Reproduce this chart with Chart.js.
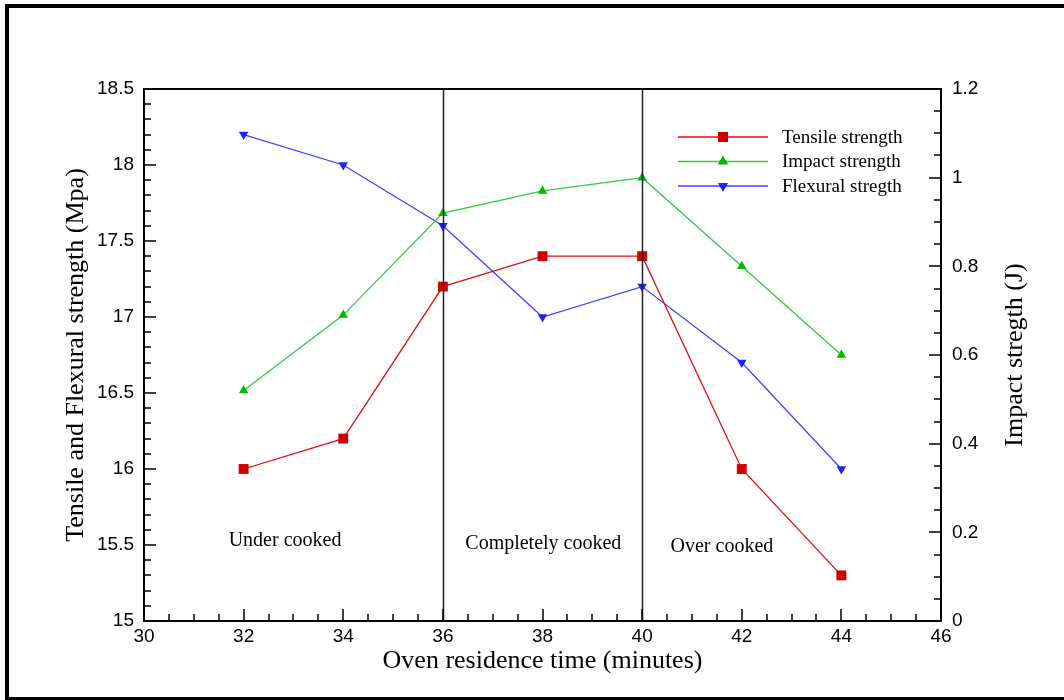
<!DOCTYPE html>
<html>
<head>
<meta charset="utf-8">
<script src="https://cdn.jsdelivr.net/npm/chart.js@4"></script>
<style>
  html, body { margin: 0; padding: 0; background: #fff; }
  #wrap { width: 1064px; height: 700px; }
</style>
</head>
<body>
<div id="wrap"><canvas id="chart" width="1064" height="700"></canvas></div>
<script>
// oven residence time (minutes)
const times = [32, 34, 36, 38, 40, 42, 44];
// left axis (Mpa)
const tensile = [16.0, 16.2, 17.2, 17.4, 17.4, 16.0, 15.3];
const flexural = [18.2, 18.0, 17.6, 17.0, 17.2, 16.7, 16.0];
// right axis (J)
const impact = [0.52, 0.69, 0.92, 0.97, 1.0, 0.80, 0.60];

const seriesNames = ['Tensile strength', 'Impact strength', 'Flexural stregth'];
const stageBounds = [36, 40];
const stageNames = ['Under cooked', 'Completely cooked', 'Over cooked'];

const serif = 'Liberation Serif';
const sans = 'Liberation Sans';

const toPoints = vals => times.map((t, i) => ({ x: t, y: vals[i] }));
const plainNum = v => String(+v.toFixed(2));

// ticks pointing inwards, axis frame, stage lines, labels, legend
const decorations = {
    id: 'decorations',
    afterDatasetsDraw(chart) {
        const { ctx, chartArea: a, scales } = chart;
        ctx.save();
        ctx.strokeStyle = '#222';
        ctx.lineWidth = 1.5;
        stageBounds.forEach(v => {
            const px = Math.round(scales.x.getPixelForValue(v)) + 0.5;
            ctx.beginPath();
            ctx.moveTo(px, a.top);
            ctx.lineTo(px, a.bottom);
            ctx.stroke();
        });
        ctx.restore();
    },
    afterDraw(chart) {
        const { ctx, chartArea: a, scales } = chart;
        ctx.save();

        // outer frame
        ctx.strokeStyle = '#000';
        ctx.lineWidth = 4;
        ctx.strokeRect(7, 6, 1100, 693);

        // top edge of plot box
        ctx.lineWidth = 2;
        ctx.beginPath();
        ctx.moveTo(a.left, a.top);
        ctx.lineTo(a.right, a.top);
        ctx.stroke();

        // inside ticks
        ctx.lineWidth = 1.5;
        for (let k = 0; k <= 32; k++) {
            const px = Math.round(scales.x.getPixelForValue(30 + k * 0.5));
            const len = k % 4 === 0 ? 12 : 7;
            ctx.beginPath();
            ctx.moveTo(px, a.bottom);
            ctx.lineTo(px, a.bottom - len);
            ctx.stroke();
        }
        for (let k = 0; k <= 35; k++) {
            const py = Math.round(scales.y.getPixelForValue(15 + k * 0.1));
            const len = k % 5 === 0 ? 12 : 7;
            ctx.beginPath();
            ctx.moveTo(a.left, py);
            ctx.lineTo(a.left + len, py);
            ctx.stroke();
        }
        for (let k = 0; k <= 24; k++) {
            const py = Math.round(scales.y1.getPixelForValue(k * 0.05));
            const len = k % 4 === 0 ? 12 : 7;
            ctx.beginPath();
            ctx.moveTo(a.right, py);
            ctx.lineTo(a.right - len, py);
            ctx.stroke();
        }

        // right axis title, reads bottom to top
        ctx.fillStyle = '#000';
        ctx.font = `26px "${serif}"`;
        ctx.textAlign = 'center';
        ctx.textBaseline = 'middle';
        ctx.translate(1015, (a.top + a.bottom) / 2);
        ctx.rotate(-Math.PI / 2);
        ctx.fillText('Impact stregth (J)', 0, 0);
        ctx.setTransform(1, 0, 0, 1, 0, 0);

        // stage labels
        const stagePos = [[31.7, 15.53], [36.45, 15.51], [40.57, 15.49]];
        ctx.font = `20px "${serif}"`;
        ctx.textAlign = 'left';
        stageNames.forEach((name, i) => {
            const [vx, vy] = stagePos[i];
            ctx.fillText(name, scales.x.getPixelForValue(vx), scales.y.getPixelForValue(vy));
        });

        // legend
        ctx.font = `19px "${serif}"`;
        chart.data.datasets.forEach((ds, i) => {
            const y = 137 + i * 24.5;
            ctx.strokeStyle = ds.borderColor;
            ctx.lineWidth = 1.3;
            ctx.beginPath();
            ctx.moveTo(678, y);
            ctx.lineTo(768, y);
            ctx.stroke();
            Chart.helpers.drawPoint(ctx, {
                pointStyle: ds.pointStyle,
                radius: ds.pointRadius,
                rotation: ds.pointRotation || 0,
                borderWidth: 0
            }, 723, y);
            ctx.fillStyle = ds.pointBackgroundColor;
            ctx.fill();
            ctx.fillStyle = '#000';
            ctx.fillText(ds.label, 782, y + 1);
        });

        ctx.restore();
    }
};

new Chart(document.getElementById('chart'), {
    type: 'line',
    data: {
        datasets: [{
            label: seriesNames[0],
            data: toPoints(tensile),
            yAxisID: 'y',
            borderColor: '#e01010',
            pointBackgroundColor: '#d00000',
            pointBorderColor: '#d00000',
            pointStyle: 'rect',
            pointRadius: 7
        }, {
            label: seriesNames[1],
            data: toPoints(impact),
            yAxisID: 'y1',
            borderColor: '#33cc33',
            pointBackgroundColor: '#00bb00',
            pointBorderColor: '#00bb00',
            pointStyle: 'triangle',
            pointRadius: 5.5
        }, {
            label: seriesNames[2],
            data: toPoints(flexural),
            yAxisID: 'y',
            borderColor: '#4040ff',
            pointBackgroundColor: '#2020ff',
            pointBorderColor: '#2020ff',
            pointStyle: 'triangle',
            pointRotation: 180,
            pointRadius: 5.5
        }]
    },
    options: {
        responsive: false,
        animation: false,
        events: [],
        datasets: {
            line: { borderWidth: 1.3, tension: 0, fill: false, pointBorderWidth: 0 }
        },
        layout: { padding: { left: 10, right: 0, top: 89, bottom: 0 } },
        plugins: { legend: { display: false }, tooltip: { enabled: false } },
        scales: {
            x: {
                type: 'linear',
                min: 30, max: 46,
                grid: { display: false, drawTicks: false },
                border: { display: true, color: '#000', width: 2 },
                ticks: { stepSize: 2, color: '#000', padding: 4, callback: plainNum, font: { family: sans, size: 19 } },
                title: {
                    display: true,
                    text: 'Oven residence time (minutes)',
                    color: '#000',
                    font: { family: serif, size: 26 },
                    padding: { top: 0, bottom: 23 }
                },
                afterFit: s => { s.height = 79; }
            },
            y: {
                position: 'left',
                min: 15, max: 18.5,
                grid: { display: false, drawTicks: false },
                border: { display: true, color: '#000', width: 2 },
                ticks: { stepSize: 0.5, color: '#000', padding: 10, callback: plainNum, font: { family: sans, size: 19 } },
                title: {
                    display: true,
                    text: 'Tensile and Flexural strength (Mpa)',
                    color: '#000',
                    font: { family: serif, size: 26 },
                    padding: { top: 51, bottom: 0 }
                },
                afterFit: s => { s.width = 134; }
            },
            y1: {
                position: 'right',
                min: 0, max: 1.2,
                grid: { display: false, drawTicks: false },
                border: { display: true, color: '#000', width: 2 },
                ticks: { stepSize: 0.2, color: '#000', padding: 11, callback: plainNum, font: { family: sans, size: 19 } },
                afterFit: s => { s.width = 123; }
            }
        }
    },
    plugins: [decorations]
});
</script>
</body>
</html>
